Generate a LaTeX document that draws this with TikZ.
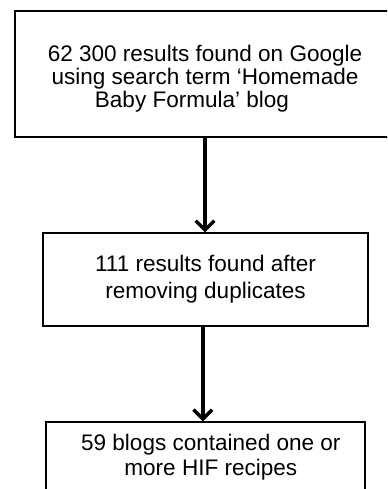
\documentclass[tikz,border=0pt]{standalone}
\usepackage{fontspec}
\setmainfont{Liberation Sans}
\usetikzlibrary{arrows.meta}

\tikzset{
	flowbox/.style={draw, line width=0.8pt, align=center, inner sep=0pt},
	flowarrow/.style={line width=2.6pt, -{Straight Barb[length=7pt, width=14pt]}}
}

\begin{document}
\begin{tikzpicture}[x=0.75pt, y=-0.75pt]
					\useasboundingbox (0,0) rectangle (387,489);
					\clip (0,0) rectangle (387,489);

					% boxes
					\node [flowbox, minimum width=285pt, minimum height=94.5pt, font=\fontsize{16.9}{17.3}\selectfont] (search) at (205,74)
						{\rule{0pt}{19pt}62 300 results found on Google\\using search term ‘Homemade\\Baby Formula’ blog\hspace*{19.5pt}};
					\node [flowbox, minimum width=243.75pt, minimum height=69.75pt, font=\fontsize{16.9}{20}\selectfont] (dedup) at (205.5,279.5)
						{111 results found after\\removing duplicates};
					\node [flowbox, minimum width=239.25pt, minimum height=52.5pt, font=\fontsize{16.9}{18.8}\selectfont] (blogs) at (205.5,457)
						{\hspace*{8pt}59 blogs contained one or\\\hspace*{8pt}more HIF recipes};

					% arrows
					\draw [flowarrow] (search.south) -- (search.south |- dedup.north);
					\draw [flowarrow] ([xshift=-2pt]dedup.south) -- ([xshift=-2pt]dedup.south |- blogs.north);
				\end{tikzpicture}
\end{document}
